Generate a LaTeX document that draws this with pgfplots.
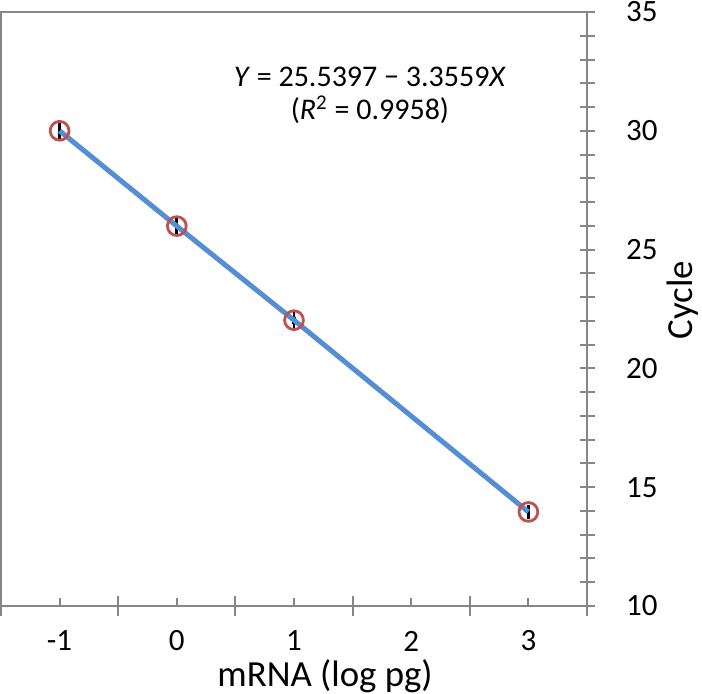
\documentclass[border=0pt]{standalone}
\usepackage{pgfplots}
\pgfplotsset{compat=1.18}
\usepackage{fontspec}
\setmainfont{Carlito}
\definecolor{axgray}{RGB}{134,134,134}
\definecolor{fitblue}{RGB}{85,142,213}
\definecolor{ptred}{RGB}{192,80,77}
\begin{document}
\begin{tikzpicture}
\useasboundingbox (0,0) rectangle (351pt,346.5pt);
\begin{axis}[
  at={(0.5pt,43.5pt)}, anchor=south west,
  scale only axis, width=293pt, height=297pt,
  xmin=-1.5, xmax=3.5, ymin=10, ymax=35,
  axis line style={axgray, line width=1pt},
  xtick={-1,0,1,2,3},
  ytick={10,15,...,35},
  xtick pos=bottom,
  ytick pos=right,
  yticklabel pos=right,
  major tick length=0pt, minor tick length=0pt,
  tick style={draw=none},
  /pgf/number format/assume math mode=true,
  tick label style={font=\fontsize{15.5}{18}\selectfont, black},
  yticklabel style={anchor=west, xshift=16pt},
  xticklabel style={anchor=center, yshift=-17.5pt},
  xlabel={mRNA (log pg)},
  ylabel={Cycle},
  every axis x label/.style={at={(axis description cs:0.5,0)}, anchor=center, xshift=15.5pt, yshift=-35pt, font=\fontsize{18.4}{22}\selectfont},
  every axis y label/.style={at={(axis description cs:1,0.5)}, rotate=90, anchor=center, yshift=-48pt, xshift=4.5pt, font=\fontsize{18.4}{22}\selectfont},
  clip=false,
]
\addplot[only marks, mark=o, mark size=4.7pt, mark options={ptred, line width=1.4pt},
  error bars/.cd, y dir=both, y explicit, error mark=-, error mark options={black, line width=1.4pt, mark size=2.2pt},
  error bar style={black, line width=1.6pt}]
coordinates {
  (-1,30.0) +- (0,0.25)
  (0,25.99) +- (0,0.15)
  (1,22.03) +- (0,0.15)
  (3,13.96) +- (0,0.12)
};
\addplot[fitblue, line width=2.5pt] coordinates {
  (-1,30.0) (0,25.99) (1,22.03) (3,13.96)
};
\pgfplotsinvokeforeach{-1.5,-0.5,0.5,1.5,2.5,3.5}{
  \draw[axgray, line width=1pt] ([yshift=-5pt]axis cs:#1,10) -- ([yshift=5pt]axis cs:#1,10);
}
\pgfplotsinvokeforeach{-1,0,1,2,3}{
  \draw[axgray, line width=1pt] (axis cs:#1,10) -- ([yshift=4pt]axis cs:#1,10);
}
\pgfplotsinvokeforeach{10,...,35}{
  \draw[axgray, line width=1pt] ([xshift=-3.75pt]axis cs:3.5,#1) -- ([xshift=3.75pt]axis cs:3.5,#1);
}
\node[font=\fontsize{15}{18}\selectfont] at (axis cs:1.648,32.26) {\textit{Y} = 25.5397 − 3.3559\textit{X}};
\node[font=\fontsize{15}{18}\selectfont] at (axis cs:1.648,30.88) {(\textit{R}\textsuperscript{2} = 0.9958)};
\end{axis}
\end{tikzpicture}
\end{document}
